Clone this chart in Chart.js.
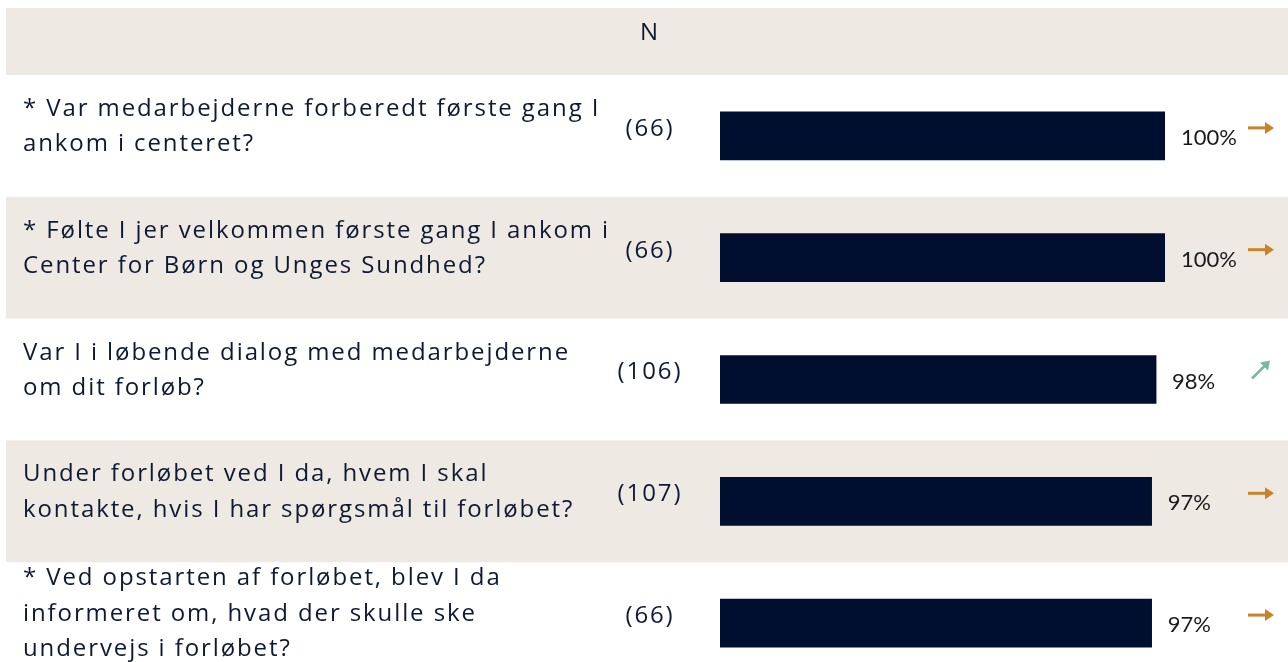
<!DOCTYPE html>
<html>
<head>
<meta charset="utf-8">
<script src="https://cdn.jsdelivr.net/npm/chart.js@4"></script>
<style>
  html, body { margin: 0; padding: 0; background: #fff; overflow: hidden; }
  #wrap { position: relative; width: 1288px; height: 684px; }
</style>
</head>
<body>
<div id="wrap"><canvas id="surveyChart"></canvas></div>
<script>
// questions, split into the lines shown in the picture
const questions = [
  ["* Var medarbejderne forberedt første gang I", "ankom i centeret?"],
  ["* Følte I jer velkommen første gang I ankom i", "Center for Børn og Unges Sundhed?"],
  ["Var I i løbende dialog med medarbejderne", "om dit forløb?"],
  ["Under forløbet ved I da, hvem I skal", "kontakte, hvis I har spørgsmål til forløbet?"],
  ["* Ved opstarten af forløbet, blev I da", "informeret om, hvad der skulle ske", "undervejs i forløbet?"]
];
const respondents = [66, 66, 106, 107, 66];
const shares = [100, 100, 98, 97, 97];
const trends = ["flat", "flat", "up", "flat", "flat"];

const BEIGE = "#EEEAE3";
const NAVY = "#000E2F";
const TEXT = "#0E1A33";
const FONT = "'Open Sans', Lato, sans-serif";
const SPACING = "1.9px";

const tablePlugin = {
  id: "tablePlugin",
  beforeDraw(chart) {
    const { ctx, scales: { y }, width } = chart;
    const rowH = Math.abs(y.getPixelForValue(1) - y.getPixelForValue(0));
    ctx.save();
    ctx.fillStyle = BEIGE;
    // header band
    ctx.fillRect(6, 8, width - 6, chart.chartArea.top - 8);
    questions.forEach((q, i) => {
      if (i % 2 === 1) {
        const cy = y.getPixelForValue(i);
        ctx.fillRect(6, cy - rowH / 2, width - 6, rowH);
      }
    });
    ctx.restore();
  },
  afterDraw(chart) {
    const { ctx, scales: { x, y } } = chart;
    ctx.save();
    ctx.fillStyle = TEXT;
    ctx.textBaseline = "middle";
    ctx.font = "24px " + FONT;
    ctx.letterSpacing = SPACING;
    ctx.textAlign = "center";
    ctx.fillText("N", 650, 33);

    questions.forEach((lines, i) => {
      const cy = y.getPixelForValue(i);
      const lh = 35.5;
      ctx.fillStyle = TEXT;
      ctx.font = "24px " + FONT;
      ctx.letterSpacing = SPACING;
      ctx.textAlign = "left";
      lines.forEach((line, k) => {
        ctx.fillText(line, 23, cy + (k - (lines.length - 1) / 2) * lh - 9);
      });
      ctx.textAlign = "center";
      ctx.fillText("(" + respondents[i] + ")", 650, cy - 7);

      // percentage label
      const xEnd = x.getPixelForValue(shares[i]);
      ctx.fillStyle = "#1A1A1A";
      ctx.font = "22px Lato, sans-serif";
      ctx.letterSpacing = "0px";
      ctx.textAlign = "left";
      ctx.fillText(shares[i] + "%", xEnd + 16, cy + 2);

      // trend arrow
      const ay = cy - 8;
      if (trends[i] === "flat") {
        ctx.strokeStyle = ctx.fillStyle = "#C8832A";
        ctx.lineWidth = 3;
        ctx.beginPath();
        ctx.moveTo(1248, ay);
        ctx.lineTo(1266, ay);
        ctx.stroke();
        ctx.beginPath();
        ctx.moveTo(1274, ay);
        ctx.lineTo(1265, ay - 6);
        ctx.lineTo(1265, ay + 6);
        ctx.closePath();
        ctx.fill();
      } else {
        ctx.strokeStyle = ctx.fillStyle = "#7DB5A0";
        ctx.lineWidth = 2.5;
        ctx.beginPath();
        ctx.moveTo(1252, cy - 1);
        ctx.lineTo(1266, cy - 15);
        ctx.stroke();
        ctx.beginPath();
        ctx.moveTo(1270, cy - 19);
        ctx.lineTo(1260, cy - 17);
        ctx.lineTo(1268, cy - 9);
        ctx.closePath();
        ctx.fill();
      }
    });
    ctx.restore();
  }
};

new Chart(document.getElementById("surveyChart"), {
  type: "bar",
  data: {
    labels: questions.map(q => q.join(" ")),
    datasets: [{
      data: shares,
      backgroundColor: NAVY,
      borderWidth: 0,
      barThickness: 48
    }]
  },
  options: {
    indexAxis: "y",
    responsive: true,
    maintainAspectRatio: false,
    animation: false,
    layout: { padding: { left: 720, right: 123, top: 75, bottom: 0 } },
    scales: {
      x: { display: false, min: 0, max: 100 },
      y: { display: false, offset: true, grid: { display: false } }
    },
    plugins: {
      legend: { display: false },
      tooltip: { enabled: false }
    }
  },
  plugins: [tablePlugin]
});
</script>
</body>
</html>
